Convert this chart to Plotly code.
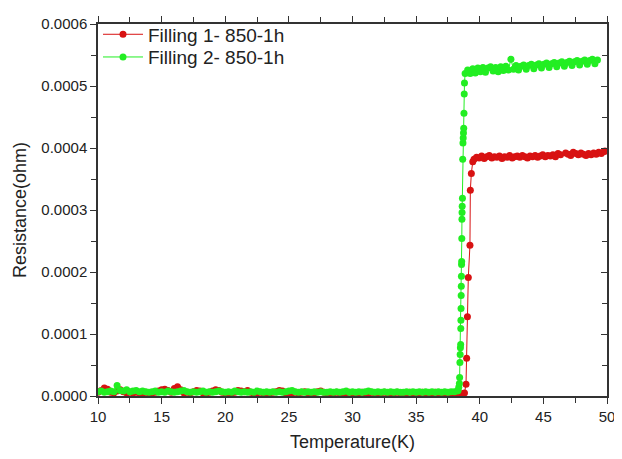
import plotly.graph_objects as go

# ---- data (resistance in micro-ohm, converted to ohm below) ----
temp_low = [
    10.00, 10.25, 10.50, 10.75, 11.00, 11.25, 11.50, 11.75,
    12.00, 12.25, 12.50, 12.75, 13.00, 13.25, 13.50, 13.75,
    14.00, 14.25, 14.50, 14.75, 15.00, 15.25, 15.50, 15.75,
    16.00, 16.25, 16.50, 16.75, 17.00, 17.25, 17.50, 17.75,
    18.00, 18.25, 18.50, 18.75, 19.00, 19.25, 19.50, 19.75,
    20.00, 20.25, 20.50, 20.75, 21.00, 21.25, 21.50, 21.75,
    22.00, 22.25, 22.50, 22.75, 23.00, 23.25, 23.50, 23.75,
    24.00, 24.25, 24.50, 24.75, 25.00, 25.25, 25.50, 25.75,
    26.00, 26.25, 26.50, 26.75, 27.00, 27.25, 27.50, 27.75,
    28.00, 28.25, 28.50, 28.75, 29.00, 29.25, 29.50, 29.75,
    30.00, 30.25, 30.50, 30.75, 31.00, 31.25, 31.50, 31.75,
    32.00, 32.25, 32.50, 32.75, 33.00, 33.25, 33.50, 33.75,
    34.00, 34.25, 34.50, 34.75, 35.00, 35.25, 35.50, 35.75,
    36.00, 36.25, 36.50, 36.75, 37.00, 37.25, 37.50, 37.75,
    38.00, 38.25,
]

f1_low = [
    6, 9, 13, 11, 6, 5, 8, 10,
    7, 5, 6, 5, 6, 5, 4, 6,
    5, 5, 6, 8, 10, 11, 9, 6,
    12, 15, 10, 5, 6, 5, 7, 9,
    8, 5, 4, 6, 8, 10, 9, 6,
    5, 4, 5, 6, 9, 8, 7, 9,
    6, 4, 5, 6, 5, 4, 5, 6,
    7, 9, 8, 5, 4, 5, 6, 5,
    6, 7, 5, 4, 5, 7, 8, 6,
    5, 4, 5, 6, 5, 4, 5, 6,
    5, 4, 5, 6, 5, 4, 6, 5,
    4, 5, 6, 5, 4, 5, 6, 5,
    4, 5, 6, 5, 4, 5, 6, 5,
    4, 5, 6, 5, 4, 5, 5, 4,
    5, 4,
]

f2_low = [
    7, 8, 6, 7, 8, 7, 17, 9,
    8, 10, 7, 8, 9, 7, 8, 7,
    6, 7, 8, 6, 7, 6, 8, 7,
    6, 7, 8, 9, 7, 6, 7, 6,
    7, 8, 6, 7, 6, 7, 8, 7,
    6, 7, 6, 8, 7, 6, 7, 6,
    7, 6, 8, 7, 6, 7, 6, 7,
    6, 7, 6, 7, 8, 9, 7, 6,
    7, 6, 7, 6, 7, 6, 7, 6,
    6, 7, 6, 7, 6, 7, 8, 6,
    7, 6, 7, 6, 7, 8, 7, 6,
    7, 6, 7, 6, 7, 6, 7, 6,
    6, 7, 6, 7, 6, 7, 6, 7,
    6, 7, 6, 7, 6, 7, 6, 7,
    7, 8,
]

f1_temp_high = [
    38.50, 38.70, 38.80, 38.92, 38.97, 39.03, 39.10, 39.23, 39.26, 39.34, 39.45,
    39.55, 39.75, 39.95, 40.15, 40.35, 40.55, 40.75, 40.95, 41.15, 41.35,
    41.55, 41.75, 41.95, 42.15, 42.35, 42.55, 42.75, 42.95, 43.15, 43.35,
    43.55, 43.75, 43.95, 44.15, 44.35, 44.55, 44.75, 44.95, 45.15, 45.35,
    45.55, 45.75, 45.95, 46.15, 46.35,
    46.75, 46.95, 47.15, 47.35, 47.55, 47.75, 47.95, 48.15, 48.35, 48.55,
    48.75, 48.95, 49.15, 49.35, 49.55, 49.75, 49.85,
]
f1_high = [
    3, 4, 5, 19, 61, 128, 191, 243, 332, 359, 378,
    382, 385, 384, 387, 383, 386, 388, 384, 386, 385,
    387, 383, 386, 385, 388, 384, 386, 387, 385, 388,
    386, 384, 387, 386, 388, 385, 387, 389, 386, 388,
    387, 389, 386, 391, 389,
    392, 390, 388, 393, 391, 389, 392, 390, 388, 391,
    389, 392, 390, 393, 391, 394, 395,
]

f2_temp_high = [
    38.30, 38.35, 38.40, 38.42, 38.44, 38.46, 38.48, 38.50, 38.51, 38.52,
    38.53, 38.54, 38.55, 38.56, 38.57, 38.58, 38.59, 38.60, 38.61, 38.62,
    38.64, 38.66, 38.68, 38.70, 38.72, 38.74, 38.76, 38.78, 38.80,
    38.85, 39.05, 39.25, 39.45, 39.65, 39.85, 40.05, 40.25, 40.45, 40.65,
    40.85, 41.05, 41.25, 41.45, 41.65, 41.85, 42.05, 42.25, 42.45, 42.65,
    42.85, 43.05, 43.25, 43.45, 43.65, 43.85, 44.05, 44.25, 44.45, 44.65,
    44.85, 45.05, 45.25, 45.45, 45.65, 45.85, 46.05, 46.25, 46.45, 46.65,
    46.85, 47.05, 47.25, 47.45, 47.65, 47.85, 48.05, 48.25, 48.45, 48.65,
    48.85, 49.05, 49.25,
]
f2_high = [
    9, 14, 20, 30, 54, 67, 78, 83, 109, 122,
    141, 162, 177, 193, 212, 217, 254, 285, 296, 306,
    319, 382, 408, 416, 424, 432, 456, 487, 505,
    520, 526, 520, 528, 521, 529, 523, 530, 522, 529,
    531, 524, 530, 523, 531, 525, 532, 526, 543, 527,
    533, 526, 532, 534, 527, 533, 535, 528, 534, 536,
    529, 535, 537, 530, 536, 538, 531, 537, 539, 532,
    538, 540, 533, 539, 541, 534, 540, 542, 535, 541,
    543, 536, 542,
]

series_names = ["Filling 1- 850-1h", "Filling 2- 850-1h"]
y_ticks = [0.0, 0.0001, 0.0002, 0.0003, 0.0004, 0.0005, 0.0006]
x_ticks = [10, 15, 20, 25, 30, 35, 40, 45, 50]

UOHM = 1e-6
t1 = temp_low + f1_temp_high
r1 = [v * UOHM for v in f1_low + f1_high]
t2 = temp_low + f2_temp_high
r2 = [v * UOHM for v in f2_low + f2_high]

RED = "#d81212"
GREEN = "#22ee22"

fig = go.Figure()
fig.add_trace(go.Scatter(
    x=t1, y=r1, mode="lines+markers", name=series_names[0], legend="legend",
    line=dict(color=RED, width=1),
    marker=dict(color=RED, size=7),
))
fig.add_trace(go.Scatter(
    x=t2, y=r2, mode="lines+markers", name=series_names[1], legend="legend2",
    line=dict(color=GREEN, width=1),
    marker=dict(color=GREEN, size=7),
))
# invisible trace to host the right-hand axis (ticks pointing inward)
fig.add_trace(go.Scatter(x=[t1[0]], y=[r1[0]], yaxis="y2", mode="markers",
                         marker=dict(opacity=0), showlegend=False, hoverinfo="skip"))

AX = "#333333"
leg_common = dict(xanchor="left", yanchor="middle", bgcolor="rgba(0,0,0,0)",
                  font=dict(size=19, color="#222222"), itemwidth=40)
fig.update_layout(
    width=614, height=451,
    margin=dict(l=90, r=10, t=7, b=63),
    paper_bgcolor="white", plot_bgcolor="white",
    font=dict(family="Liberation Sans, Arial, sans-serif", color="#222222", size=15),
    showlegend=True,
    legend=dict(x=0.0, y=0.972, **leg_common),
    legend2=dict(x=0.0, y=0.911, **leg_common),
    xaxis=dict(
        range=[10, 50], tickvals=x_ticks, ticks="outside", ticklen=6, tickwidth=1.2,
        tickcolor=AX, showline=True, linecolor=AX, linewidth=1.5, mirror="ticks",
        showgrid=False, zeroline=False,
        minor=dict(dtick=2.5, ticks="outside", ticklen=5, tickcolor=AX, showgrid=False),
        title=dict(text="Temperature(K)", font=dict(size=18), standoff=12),
        tickfont=dict(size=15),
    ),
    yaxis=dict(
        range=[0, 0.0006], tickvals=y_ticks, tickformat=".4f", ticks="outside",
        ticklen=6, tickwidth=1.2, tickcolor=AX, showline=True, linecolor=AX,
        linewidth=1.5, showgrid=False, zeroline=False,
        minor=dict(dtick=0.00005, ticks="outside", ticklen=5, tickcolor=AX, showgrid=False),
        title=dict(text="Resistance(ohm)", font=dict(size=18), standoff=10),
        tickfont=dict(size=15),
    ),
    yaxis2=dict(
        overlaying="y", side="right", range=[0, 0.0006], tickvals=y_ticks,
        ticks="inside", ticklen=6, tickwidth=1.2, tickcolor=AX, showticklabels=False,
        showline=True, linecolor=AX, linewidth=1.5, showgrid=False, zeroline=False,
        minor=dict(dtick=0.00005, ticks="inside", ticklen=5, tickcolor=AX, showgrid=False),
    ),
)

fig.write_html("out.html")
